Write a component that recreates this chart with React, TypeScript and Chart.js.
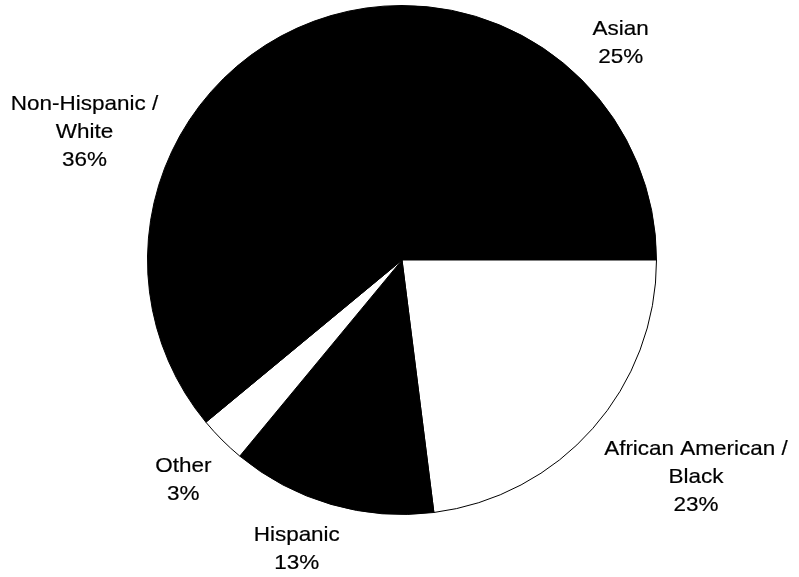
import React, { useEffect, useRef } from "react";
import { Chart, registerables } from "chart.js";

Chart.register(...registerables);

const categories = ["Asian", "African American / Black", "Hispanic", "Other", "Non-Hispanic / White"];
const labelLines = [["Asian"], ["African American /", "Black"], ["Hispanic"], ["Other"], ["Non-Hispanic /", "White"]];
const values = [25, 23, 13, 3, 36];
const sliceColors = ["#000000", "#ffffff", "#000000", "#ffffff", "#000000"];

const FONT = '21px "Liberation Sans", Arial, sans-serif';
const LINE_H = 28;
const X_STRETCH = 1.07;
const GAP = 15;

const clamp = (v: number) => Math.max(-1, Math.min(1, v));

const outsideLabels = {
  id: "outsideLabels",
  afterDraw(chart: any) {
    const ctx = chart.ctx;
    const meta = chart.getDatasetMeta(0);
    ctx.save();
    ctx.font = FONT;
    ctx.fillStyle = "#000";
    ctx.strokeStyle = "#000";
    ctx.lineWidth = 0.2;
    ctx.textAlign = "center";
    ctx.textBaseline = "middle";
    meta.data.forEach((arc: any, i: number) => {
      const { x, y, startAngle, endAngle, outerRadius } = arc.getProps(
        ["x", "y", "startAngle", "endAngle", "outerRadius"],
        true
      );
      const mid = (startAngle + endAngle) / 2;
      const dx = Math.cos(mid);
      const dy = Math.sin(mid);
      const lines = [...labelLines[i], `${values[i]}%`];
      const w = Math.max(...lines.map((l) => ctx.measureText(l).width)) * X_STRETCH;
      const h = lines.length * LINE_H;
      const px = x + (outerRadius + GAP) * dx;
      const py = y + (outerRadius + GAP) * dy;
      const cx = px + clamp(2.5 * dx) * (w / 2);
      const cy = py + clamp(2 * dy * Math.abs(dy)) * (h / 2) + 2;
      lines.forEach((line, j) => {
        const ly = cy - h / 2 + LINE_H * (j + 0.5);
        ctx.save();
        ctx.translate(cx, ly);
        ctx.scale(X_STRETCH, 1);
        ctx.fillText(line, 0, 0);
        ctx.strokeText(line, 0, 0);
        ctx.restore();
      });
    });
    ctx.restore();
  },
};

export default function App() {
  const ref = useRef<HTMLCanvasElement | null>(null);
  useEffect(() => {
    document.body.style.margin = "0";
    document.body.style.background = "#ffffff";
    const chart = new Chart(ref.current as HTMLCanvasElement, {
      type: "pie",
      data: {
        labels: categories,
        datasets: [
          {
            data: values,
            backgroundColor: sliceColors,
            borderColor: "#000000",
            borderWidth: 1,
          },
        ],
      },
      options: {
        responsive: false,
        animation: false,
        layout: { padding: { left: 147, right: 142, top: 5, bottom: 62 } },
        plugins: {
          legend: { display: false },
          tooltip: { enabled: false },
        },
      },
      plugins: [outsideLabels],
    });
    return () => chart.destroy();
  }, []);
  return (
    <div style={{ width: 799, height: 577, background: "#fff" }}>
      <canvas ref={ref} width={799} height={577} />
    </div>
  );
}
